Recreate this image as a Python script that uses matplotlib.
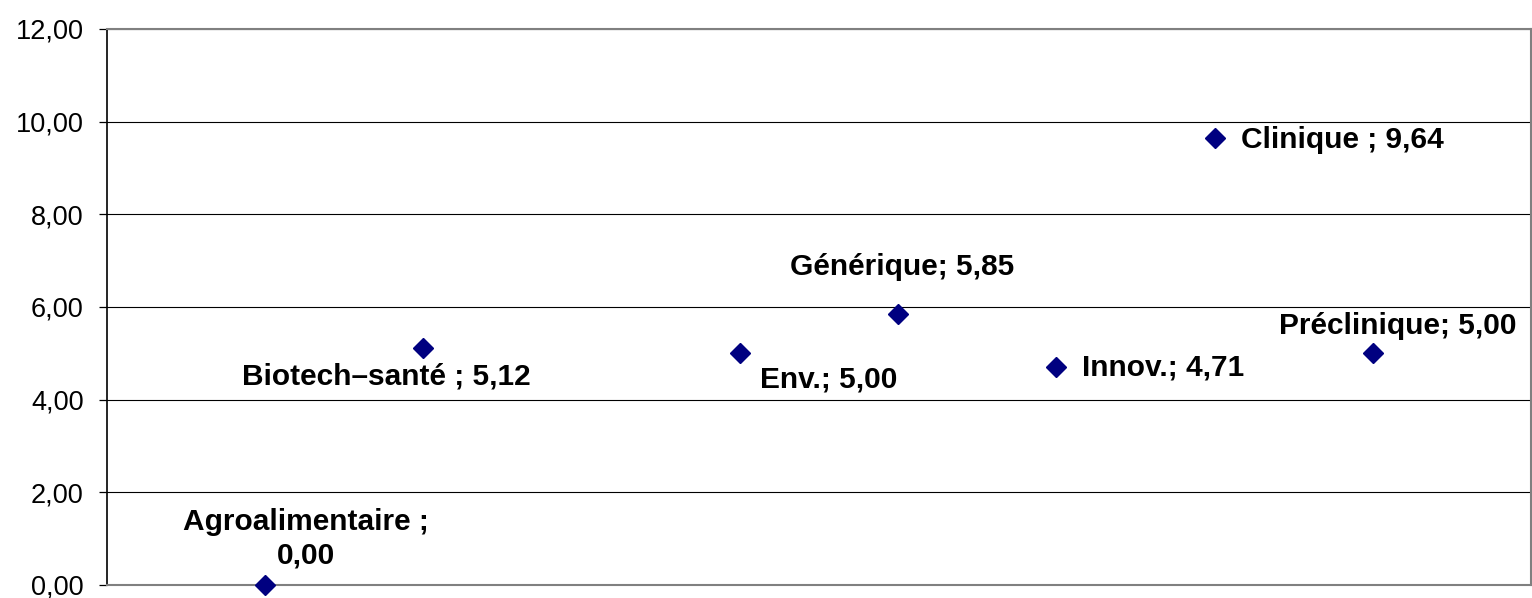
import matplotlib
matplotlib.use('Agg')
from matplotlib import pyplot as plt
from matplotlib.ticker import FuncFormatter

plt.rcParams['font.family'] = ['Liberation Sans', 'DejaVu Sans']

# données
categories = ['Agroalimentaire', 'Biotech\u2013santé', 'Env.', 'Générique',
              'Innov.', 'Clinique', 'Préclinique']
x_pos = [1, 2, 4, 5, 6, 7, 8]
values = [0.00, 5.12, 5.00, 5.85, 4.71, 9.64, 5.00]
separators = [' ;\n', ' ; ', '; ', '; ', '; ', ' ; ', '; ']
y_ticks = [0, 2, 4, 6, 8, 10, 12]

# position des étiquettes (décalage en pixels, alignement)
label_offsets = [(41, 46, 'center'), (-37, -29, 'center'), (89, -26, 'center'),
                 (4, 47, 'center'), (26, -1, 'left'), (26, -2, 'left'),
                 (25, 27, 'center')]

fig = plt.figure(figsize=(15.32, 5.98), dpi=100)
ax = fig.add_axes([107 / 1532, 1 - 585 / 598, (1531 - 107) / 1532, (585 - 29) / 598])

ax.plot(x_pos, values, linestyle='none', marker='D', markersize=10,
        color='#000080', clip_on=False, zorder=3)

for i in range(len(categories)):
    dx, dy, ha = label_offsets[i]
    txt = categories[i] + separators[i] + ('%.2f' % values[i]).replace('.', ',')
    ax.annotate(txt, (x_pos[i], values[i]), xytext=(dx * 0.72, dy * 0.72),
                textcoords='offset points', ha=ha, va='center', multialignment='center',
                fontsize=21.5, fontweight='bold', linespacing=1.25)

ax.set_xlim(0, 9)
ax.set_ylim(0, 12)
ax.set_yticks(y_ticks)
ax.yaxis.set_major_formatter(FuncFormatter(lambda v, p: ('%.2f' % v).replace('.', ',')))
ax.set_xticks([])
ax.tick_params(axis='y', labelsize=19.5, length=5.8, width=0.9, pad=11, direction='out')
ax.grid(axis='y', color='black', linewidth=0.8)
ax.set_axisbelow(True)

ax.spines['left'].set_color('black')
ax.spines['left'].set_linewidth(1.2)
for s in ['top', 'right', 'bottom']:
    ax.spines[s].set_color('#808080')
    ax.spines[s].set_linewidth(1.5)

fig.savefig('out.png', dpi=100)
